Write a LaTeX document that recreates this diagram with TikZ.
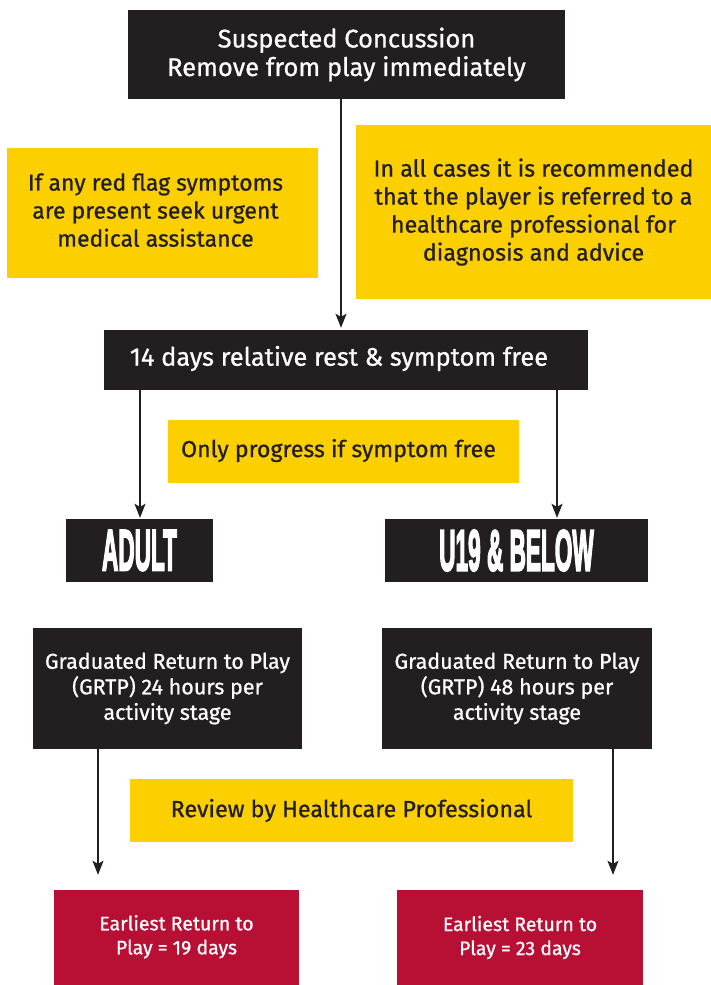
\documentclass[tikz,border=0pt]{standalone}
\usepackage{fontspec}
\setmainfont[FakeBold=0.8]{Fira Sans}
\newfontfamily\headfont[FakeBold=4]{Liberation Sans Bold}
\usetikzlibrary{arrows.meta}
\definecolor{cblack}{HTML}{231F20}
\definecolor{cyellow}{HTML}{FCD000}
\definecolor{cred}{HTML}{B81035}
\newcommand{\fs}[2]{\fontsize{#1}{#2}\selectfont}
\newcommand{\headtext}[1]{\scalebox{0.39}[1]{\headfont\fs{58}{58}#1}}
\newcommand{\shl}[2]{\begin{tabular}{@{}c@{}}#2\end{tabular}\hspace*{#1}}
\begin{document}
\begin{tikzpicture}[x=1pt,y=-1pt,
  box/.style={rectangle,inner sep=0pt,align=center,anchor=center},
  blackbox/.style={box,fill=cblack,text=white},
  yellowbox/.style={box,fill=cyellow,text=cblack},
  redbox/.style={box,fill=cred,text=white},
  arr/.style={draw=cblack,line width=1.5pt,-{Stealth[width=11pt,length=14pt,inset=3pt]}}]
\useasboundingbox (0,0) rectangle (711,985);
\node[blackbox,minimum width=437pt,minimum height=89pt,font=\fs{25.5}{28.5}] (top) at (346.5,54.5)
  {Suspected Concussion\\Remove from play immediately};
\node[yellowbox,minimum width=311pt,minimum height=130pt,font=\fs{23}{28}] (yl) at (162.5,213)
  {\shl{14pt}{If any red flag symptoms\\are present seek urgent\\medical assistance}};
\node[yellowbox,minimum width=355pt,minimum height=174pt,font=\fs{23.3}{28}] (yr) at (533.5,212)
  {In all cases it is recommended\\that the player is referred to a\\healthcare professional for\\diagnosis and advice};
\node[blackbox,minimum width=484pt,minimum height=60pt,font=\fs{25.4}{28}] (rest) at (346,360)
  {\shl{14pt}{14 days relative rest \& symptom free}};
\node[yellowbox,minimum width=351pt,minimum height=63pt,font=\fs{23.2}{28}] (only) at (343.5,451.5)
  {\shl{10pt}{Only progress if symptom free}};
\node[blackbox,minimum width=147pt,minimum height=63pt] (adult) at (139.5,550.5)
  {\headtext{ADULT}};
\node[blackbox,minimum width=263pt,minimum height=63pt] (u19) at (516.5,550.5)
  {\headtext{U19 \& BELOW}};
\node[blackbox,minimum width=269pt,minimum height=121pt,font=\fs{21.5}{25.5}] (gl) at (167.5,688.5)
  {Graduated Return to Play\\(GRTP) 24 hours per\\activity stage};
\node[blackbox,minimum width=270pt,minimum height=121pt,font=\fs{21.5}{25.5}] (gr) at (517,688.5)
  {Graduated Return to Play\\(GRTP) 48 hours per\\activity stage};
\node[yellowbox,minimum width=443pt,minimum height=63pt,font=\fs{23.3}{28}] (rev) at (351.5,810.5)
  {Review by Healthcare Professional};
\node[redbox,minimum width=245pt,minimum height=95pt,font=\fs{19.5}{24}] (el) at (176.5,937.5)
  {\raisebox{4pt}{\shl{0pt}{Earliest Return to\\Play = 19 days}}};
\node[redbox,minimum width=246pt,minimum height=95pt,font=\fs{19.5}{24}] (er) at (520,937.5)
  {Earliest Return to\\Play = 23 days};
\coordinate (c1) at (341,0);
\coordinate (c2) at (140,0);
\coordinate (c3) at (557,0);
\coordinate (c4) at (98,0);
\coordinate (c5) at (613,0);
\draw[arr,shorten >=2pt] (top.south -| c1) -- (rest.north -| c1);
\draw[arr,shorten >=1pt] (rest.south -| c2) -- (adult.north -| c2);
\draw[arr,shorten >=1pt] (rest.south -| c3) -- (u19.north -| c3);
\draw[arr,shorten >=15pt] (gl.south -| c4) -- (el.north -| c4);
\draw[arr,shorten >=15pt] (gr.south -| c5) -- (er.north -| c5);
\end{tikzpicture}
\end{document}
